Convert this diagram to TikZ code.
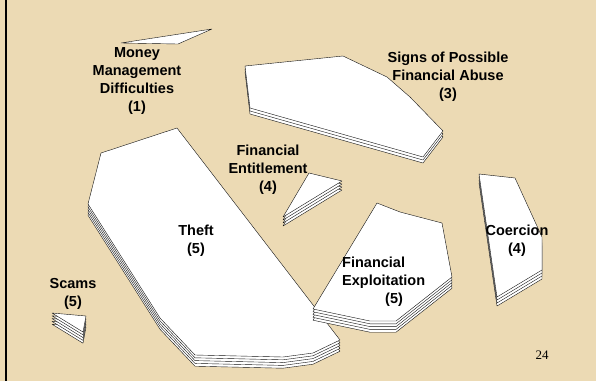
\documentclass[tikz,border=0pt]{standalone}
\usepackage{fontspec}
\usepackage{tikz}
\setmainfont{Liberation Sans}
\newfontfamily\pagenumfont{Liberation Serif}
\definecolor{parchment}{HTML}{ECDAB4}
\definecolor{edgeink}{HTML}{111111}

\begin{document}
\begin{tikzpicture}[x=1pt, y=-1pt,
    sheet/.style={fill=white, draw=edgeink, line width=0.4pt, line join=round},
    heading/.style={font=\fontsize{14.5}{18}\selectfont\bfseries, align=center, inner sep=0pt}
]

% Background and frame
\fill[parchment] (0,0) rectangle (596,381);
\useasboundingbox (0,0) rectangle (596,381);
\draw[line width=2.2pt] (6,0) -- (6,381);

% Money Management Difficulties (1 sheet)
\draw[sheet] (121,43) -- (212,29) -- (178,44) -- cycle;

% Signs of Possible Financial Abuse (3 sheets)
\foreach \k in {2,1,0}
  \draw[sheet, yshift=-\k*3pt] (245,66) -- (343,56) -- (387,77) -- (410,97) -- (443,131)
    -- (423,157) -- (250,108) -- cycle;

% Financial Entitlement (4 sheets)
\foreach \k in {3,2,1,0}
  \draw[sheet, yshift=-\k*3pt] (309,173) -- (342,181) -- (283,217) -- cycle;

% Theft (5 sheets)
\foreach \k in {4,3,2,1,0}
  \draw[sheet, yshift=-\k*2.8pt] (101,153) -- (177,128) -- (340,340) -- (313,353) -- (283,357)
    -- (195,355) -- (160,318) -- (88,204) -- cycle;

% Financial Exploitation (5 sheets)
\foreach \k in {4,3,2,1,0}
  \draw[sheet, yshift=-\k*2.8pt] (377,203) -- (400,212) -- (442,223) -- (452,277) -- (396,321)
    -- (370,321) -- (313,309) -- cycle;

% Coercion (4 sheets)
\foreach \k in {3,2,1,0}
  \draw[sheet, yshift=-\k*3pt] (479,174) -- (515,178) -- (542,237) -- (542,270) -- (497,297) -- cycle;

% Scams (5 sheets)
\foreach \k in {4,3,2,1,0}
  \draw[sheet, yshift=-\k*2.8pt] (52,313) -- (86,316) -- (83,332) -- cycle;

% Labels
\node[heading] (money) at (137,81) {Money\\Management\\Difficulties\\(1)};
\node[heading] (signs) at (448,77) {Signs of Possible\\Financial Abuse\\(3)};
\node[heading] (entitle) at (268,170) {Financial\\Entitlement\\(4)};
\node[heading] (theft) at (196,241) {Theft\\(5)};
\node[heading] (scams) at (73,294) {Scams\\(5)};
\node[heading, align=left, anchor=west] (exploit) at (342,282) {Financial\\Exploitation\\\hspace*{43pt}(5)};
\node[heading] (coerce) at (517,241) {Coercion\\(4)};

% Page number
\node[font=\pagenumfont\fontsize{13}{15}\selectfont, inner sep=0pt] (pagenum) at (542,355) {24};

\end{tikzpicture}
\end{document}
